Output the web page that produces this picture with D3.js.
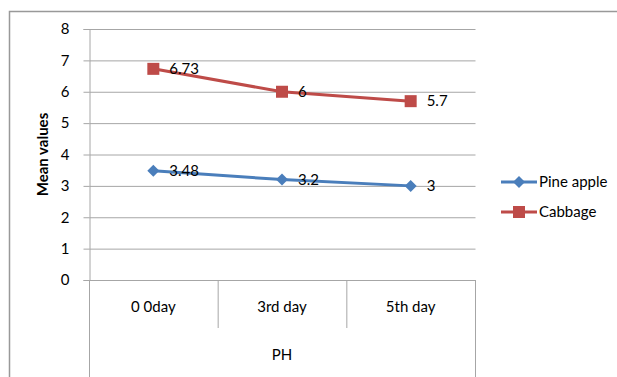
<!DOCTYPE html>
<html>
<head>
<meta charset="utf-8">
<script src="https://cdn.jsdelivr.net/npm/d3@7"></script>
<style>
  html, body { margin: 0; padding: 0; background: #fff; }
  svg { display: block; }
  text { font-family: Lato, "Open Sans", sans-serif; fill: #000; }
</style>
</head>
<body>
<svg id="chart" width="617" height="377"></svg>
<script>
// pH readings over storage days
const categories = ["0 0day", "3rd day", "5th day"];
const groupLabel = "PH";
const pineApple = [3.48, 3.2, 3];
const cabbage = [6.73, 6, 5.7];
const seriesNames = ["Pine apple", "Cabbage"];
const yTicks = [0, 1, 2, 3, 4, 5, 6, 7, 8];

const series = [
  { name: seriesNames[0], values: pineApple, color: "#4A7EBB", marker: "diamond" },
  { name: seriesNames[1], values: cabbage, color: "#BE4B48", marker: "square" }
];

const svg = d3.select("#chart");
const plotLeft = 89, plotRight = 475, plotTop = 29, plotBottom = 280;
const gridColor = "#A6A6A6";

// outer chart frame (extends beyond the visible area on right and bottom)
svg.append("rect").attr("x", 9.5).attr("y", 11.5).attr("width", 700).attr("height", 500)
  .attr("fill", "none").attr("stroke", "#999").attr("stroke-width", 1.5);

const x = d3.scaleBand().domain(categories).range([plotLeft, plotRight]).padding(0);
const y = d3.scaleLinear().domain([0, 8]).range([plotBottom, plotTop]);

// gridlines + y ticks
const yAxis = d3.axisLeft(y).tickValues(yTicks).tickSize(6).tickPadding(14).tickFormat(d3.format("d"));
const gy = svg.append("g").attr("transform", `translate(${plotLeft + 0.5},0)`).call(yAxis);
gy.select(".domain").attr("stroke", gridColor);
gy.selectAll(".tick line").attr("stroke", gridColor);
gy.selectAll(".tick text").attr("font-size", 15).attr("fill", "#000")
  .style("font-family", "Lato, 'Open Sans', sans-serif");
gy.selectAll(".tick").append("line").attr("x1", 0).attr("x2", plotRight - plotLeft)
  .attr("stroke", gridColor).attr("stroke-width", 1);

// category separators on the x axis
const edges = categories.map(c => x(c)).concat([plotRight]);
edges.forEach((e, i) => {
  const outer = i === 0 || i === edges.length - 1;
  svg.append("line").attr("x1", e + 0.5).attr("x2", e + 0.5)
    .attr("y1", plotBottom).attr("y2", outer ? 377 : 328)
    .attr("stroke", gridColor).attr("stroke-width", 1);
});

// category labels
svg.append("g").selectAll("text").data(categories).join("text")
  .attr("x", d => x(d) + x.bandwidth() / 2).attr("y", 312)
  .attr("text-anchor", "middle").attr("font-size", 15).text(d => d);

// group label
svg.append("text").attr("x", (plotLeft + plotRight) / 2).attr("y", 360)
  .attr("text-anchor", "middle").attr("font-size", 15).text(groupLabel);

// y axis title
svg.append("text").attr("transform", `translate(48,${(plotTop + plotBottom) / 2}) rotate(-90)`)
  .attr("text-anchor", "middle").attr("font-size", 15).attr("font-weight", "bold")
  .text("Mean values");

const cx = d => x(d) + x.bandwidth() / 2;
const line = d3.line().x(d => cx(d.c)).y(d => y(d.v));

function drawMarker(g, type, color) {
  if (type === "diamond") {
    g.append("path").attr("d", "M0,-6L6,0L0,6L-6,0Z").attr("fill", color);
  } else {
    g.append("rect").attr("x", -6).attr("y", -6).attr("width", 12).attr("height", 12).attr("fill", color);
  }
}

series.forEach(s => {
  const pts = s.values.map((v, i) => ({ c: categories[i], v }));
  svg.append("path").datum(pts).attr("d", line).attr("fill", "none")
    .attr("stroke", s.color).attr("stroke-width", 3);
  pts.forEach(p => {
    const g = svg.append("g").attr("transform", `translate(${cx(p.c)},${y(p.v)})`);
    drawMarker(g, s.marker, s.color);
  });
  svg.append("g").selectAll("text").data(pts).join("text")
    .attr("x", p => cx(p.c) + 16).attr("y", p => y(p.v) + 5)
    .attr("font-size", 15).text(p => p.v);
});

// legend
series.forEach((s, i) => {
  const ly = 182 + i * 30;
  svg.append("line").attr("x1", 501).attr("x2", 537).attr("y1", ly).attr("y2", ly)
    .attr("stroke", s.color).attr("stroke-width", 3);
  const g = svg.append("g").attr("transform", `translate(519,${ly})`);
  drawMarker(g, s.marker, s.color);
  svg.append("text").attr("x", 539).attr("y", ly + 5).attr("font-size", 15).text(s.name);
});
</script>
</body>
</html>
